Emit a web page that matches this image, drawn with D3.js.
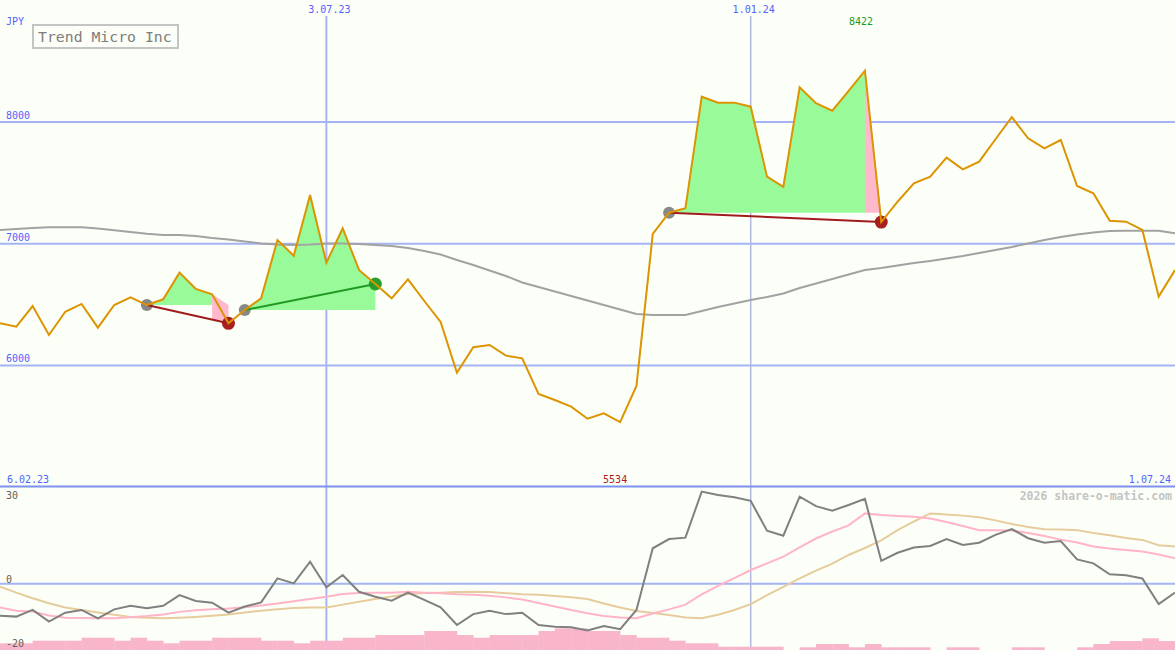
<!DOCTYPE html>
<html><head><meta charset="utf-8">
<script src="https://cdn.jsdelivr.net/npm/d3@7"></script>
<style>html,body{margin:0;padding:0;background:#fcfff8;}svg{display:block;}</style>
</head><body>
<script>
// ---- data (weekly closes, Mondays from 13.02.23 to 1.07.24) ----
const price = [6346,6318,6488,6250,6441,6505,6310,6496,6560,6496,
 6543,6762,6628,6584,6346,6455,6551,7030,6901,7400,
 6844,7127,6784,6669,6551,6707,6529,6357,5940,6149,
 6168,6080,6058,5765,5716,5661,5562,5606,5534,5831,
 7080,7255,7291,8208,8159,8159,8126,7551,7468,8285,
 8154,8093,8255,8422,7178,7345,7496,7551,7707,7611,
 7674,7858,8039,7866,7784,7852,7474,7414,7189,7181,
 7113,6565,6784];
const ma = [7113,7121,7129,7135,7135,7135,7125,7110,7096,7081,
 7071,7071,7063,7047,7035,7018,7002,6993,6989,6993,
 7002,7002,6998,6989,6981,6965,6940,6911,6866,6825,
 6780,6735,6681,6644,6607,6570,6533,6496,6459,6422,
 6414,6414,6414,6447,6480,6508,6537,6562,6591,6636,
 6673,6710,6747,6784,6800,6821,6841,6858,6878,6899,
 6924,6948,6973,7002,7030,7055,7076,7092,7104,7107,
 7107,7107,7085];
const osc = [-11.5,-11.8,-9.4,-13.6,-10.4,-9.4,-12.4,-9.2,-7.9,-8.8,
 -7.9,-4.1,-6.2,-6.8,-10.4,-8.2,-6.7,1.9,0.1,7.9,
 -1.3,3.1,-2.9,-4.7,-6.1,-3.2,-5.8,-8.5,-14.8,-10.9,
 -9.7,-10.9,-10.4,-14.8,-15.4,-15.6,-16.8,-15.2,-16.3,-9.4,
 12.7,16.0,16.5,33.0,31.8,31.0,29.7,19.0,17.2,31.2,
 27.8,26.2,28.2,30.4,8.2,11.1,13.0,13.5,16.0,13.9,
 14.7,17.5,19.6,16.3,14.7,15.3,8.7,7.3,3.4,3.0,
 1.9,-7.3,-3.2];
const oscFast = [-8.5,-9.7,-10.0,-11.4,-12.2,-12.3,-12.4,-12.4,-12.0,-11.6,
 -11.0,-10.1,-9.5,-9.2,-8.9,-8.4,-7.8,-7.1,-6.3,-5.5,
 -4.7,-3.7,-3.3,-3.2,-3.2,-2.9,-3.2,-3.4,-3.8,-4.0,
 -4.3,-4.9,-5.7,-6.9,-8.2,-9.4,-10.6,-11.6,-12.1,-12.4,
 -10.7,-9.2,-7.5,-3.8,-0.8,2.0,4.9,7.3,9.7,13.0,
 16.2,18.7,20.9,25.2,24.6,24.3,24.0,23.4,22.1,20.7,
 19.2,19.2,19.1,18.2,17.1,15.8,14.8,13.3,12.6,12.1,
 11.5,10.5,9.1];
const oscSlow = [-1.1,-3.2,-5.2,-7.0,-8.5,-9.4,-10.3,-11.1,-11.9,-12.2,
 -12.4,-12.2,-11.9,-11.5,-11.0,-10.3,-9.7,-9.2,-8.7,-8.5,
 -8.5,-7.5,-6.5,-5.5,-4.6,-3.7,-3.3,-3.2,-3.0,-2.9,
 -3.0,-3.4,-3.8,-4.0,-4.4,-4.9,-5.5,-7.1,-8.5,-9.8,
 -10.5,-11.2,-12.1,-12.4,-11.1,-9.4,-7.3,-4.1,-1.1,1.9,
 4.7,7.2,10.3,12.8,15.5,19.2,22.3,25.2,24.8,24.4,
 23.8,22.7,21.4,20.3,19.5,19.4,19.2,18.2,17.4,16.4,
 15.7,13.8,13.3];
const volume = [0.67,0.67,0.93,0.93,0.93,1.23,1.23,0.93,1.23,0.93,
 0.67,0.93,0.93,1.23,1.23,1.23,0.93,0.93,0.67,0.93,
 0.93,1.23,1.23,1.5,1.5,1.5,1.9,1.9,1.5,1.23,
 1.5,1.5,1.5,1.9,2.17,2.17,1.9,1.9,1.5,1.23,
 1.23,0.93,0.67,0.67,0.33,0.33,0.33,0.33,0,0.27,
 0.6,0.6,0.27,0.6,0.27,0.27,0.27,0,0.27,0.27,
 0,0,0.27,0.27,0,0,0.27,0.6,0.9,0.9,
 1.17,0.9,0.9];
// trades: index of buy week and sell week
const tradeBuy  = [9, 15, 41];
const tradeSell = [14, 23, 54];
const priceTicks = [6000, 7000, 8000];
const oscTicks = [30, 0, -20];
const dateTickValues = [Date.UTC(2023,6,3), Date.UTC(2024,0,1)];
const dateTickLabels = ["3.07.23", "1.01.24"];
const rangeLabels = ["6.02.23", "1.07.24"];
const title = "Trend Micro Inc";
const currency = "JPY";
const credit = "2026 share-o-matic.com";

// ---- layout ----
const W = 1175, H = 650;
const dates = d3.utcMonday.range(new Date(Date.UTC(2023,1,13)), new Date(Date.UTC(2024,6,2)));
const x = d3.scaleUtc().domain([new Date(Date.UTC(2023,1,13)), new Date(Date.UTC(2024,6,1))]).range([0, W]);
const y = d3.scaleLinear().domain([6000, 8000]).range([365.4, 122]);
const yi = d3.scaleLinear().domain([-20, 30]).range([639.5, 500]);
const yv = d3.scaleLinear().domain([0, 2.5]).range([H, H - 25]);
const step = x(dates[1]) - x(dates[0]);
const mono = "'DejaVu Sans Mono', monospace";
const blue = "#5262ff", grid = "#a4b4f4";

const svg = d3.select("body").append("svg").attr("width", W).attr("height", H);
svg.append("rect").attr("width", W).attr("height", H).attr("fill", "#fcfff8");

// grid
svg.selectAll(".hg").data(priceTicks).join("line")
  .attr("x1", 0).attr("x2", W).attr("y1", d => y(d)).attr("y2", d => y(d))
  .attr("stroke", grid).attr("stroke-width", 2);
svg.selectAll(".hl").data(priceTicks).join("text")
  .attr("x", 6).attr("y", d => y(d) - 3).text(d => d)
  .attr("font-family", mono).attr("font-size", 10).attr("fill", blue);
svg.append("line").attr("x1", 0).attr("x2", W).attr("y1", yi(0)).attr("y2", yi(0))
  .attr("stroke", grid).attr("stroke-width", 2);
svg.selectAll(".vg").data(dateTickValues).join("line")
  .attr("x1", d => x(new Date(d))).attr("x2", d => x(new Date(d)))
  .attr("y1", 16).attr("y2", H)
  .attr("stroke", (d, i) => i === 0 ? grid : "#b0b8e2")
  .attr("stroke-width", (d, i) => i === 0 ? 2 : 1.5);
svg.selectAll(".vl").data(dateTickValues).join("text")
  .attr("x", d => x(new Date(d)) + 3).attr("y", 13).attr("text-anchor", "middle")
  .text((d, i) => dateTickLabels[i])
  .attr("font-family", mono).attr("font-size", 10).attr("fill", blue);

// divider
svg.append("line").attr("x1", 0).attr("x2", W).attr("y1", 486.5).attr("y2", 486.5)
  .attr("stroke", "#7f8ff0").attr("stroke-width", 2);
svg.append("text").attr("x", 7).attr("y", 483).text(rangeLabels[0])
  .attr("font-family", mono).attr("font-size", 10).attr("fill", blue);
svg.append("text").attr("x", 1171).attr("y", 483).attr("text-anchor", "end").text(rangeLabels[1])
  .attr("font-family", mono).attr("font-size", 10).attr("fill", blue);

// trade fills
const pts = price.map((p, i) => ({i, d: dates[i], p}));
trades();
function trades() {
  tradeBuy.forEach((b, t) => {
    const s = tradeSell[t];
    const level = price[b];
    let lastUp = b;
    for (let i = b; i <= s; i++) if (price[i] >= level) lastUp = i;
    const clampArea = d3.area().x(d => x(d.d)).y0(y(level)).y1(d => y(Math.max(d.p, level)));
    svg.append("path").datum(pts.slice(b, lastUp + 1)).attr("d", clampArea).attr("fill", "#98fa98");
    if (lastUp < s) {
      const seg = pts.slice(lastUp, s + 1);
      const aboveArea = d3.area().x(d => x(d.d)).y0(y(level)).y1(d => y(Math.max(d.p, level)));
      svg.append("path").datum(seg).attr("d", aboveArea).attr("fill", "#ffb8cc");
      if (price[lastUp] - level < (level - price[s]) * 3) {
        svg.append("rect").attr("x", x(dates[lastUp])).attr("width", x(dates[s]) - x(dates[lastUp]))
          .attr("y", y(level)).attr("height", y(price[s]) - y(level) - 3).attr("fill", "#ffb8cc");
      }
    }
  });
}

// moving average
svg.append("path").datum(ma.map((v, i) => [dates[i], v]))
  .attr("d", d3.line().x(d => x(d[0])).y(d => y(d[1])))
  .attr("fill", "none").attr("stroke", "#a2a2a2").attr("stroke-width", 2);

// markers, trade lines
tradeBuy.forEach((b, t) => {
  const s = tradeSell[t];
  const win = price[s] > price[b];
  svg.append("circle").attr("cx", x(dates[b])).attr("cy", y(price[b])).attr("r", 6).attr("fill", "#888888");
  svg.append("circle").attr("cx", x(dates[s])).attr("cy", y(price[s])).attr("r", 6.5)
    .attr("fill", win ? "#2a9e2a" : "#a82020");
});
tradeBuy.forEach((b, t) => {
  const s = tradeSell[t];
  const win = price[s] > price[b];
  svg.append("line").attr("x1", x(dates[b])).attr("y1", y(price[b]))
    .attr("x2", x(dates[s])).attr("y2", y(price[s]))
    .attr("stroke", win ? "#229a22" : "#a01c1c").attr("stroke-width", 2);
});

// price line
svg.append("path").datum(pts)
  .attr("d", d3.line().x(d => x(d.d)).y(d => y(d.p)))
  .attr("fill", "none").attr("stroke", "#dc9400").attr("stroke-width", 2);

// max / min labels
const iMax = d3.maxIndex(price), iMin = d3.minIndex(price);
svg.append("text").attr("x", x(dates[iMax]) - 4).attr("y", 25).attr("text-anchor", "middle")
  .text(price[iMax]).attr("font-family", mono).attr("font-size", 10).attr("fill", "#1a9a1a");
svg.append("text").attr("x", x(dates[iMin]) - 5).attr("y", 483).attr("text-anchor", "middle")
  .text(price[iMin]).attr("font-family", mono).attr("font-size", 10).attr("fill", "#b01818");

// title
svg.append("text").attr("x", 6).attr("y", 25).text(currency)
  .attr("font-family", mono).attr("font-size", 10).attr("fill", blue);
svg.append("rect").attr("x", 33).attr("y", 25).attr("width", 145).attr("height", 23)
  .attr("fill", "#fcfff8").attr("stroke", "#c4c4c4").attr("stroke-width", 2);
svg.append("text").attr("x", 38).attr("y", 41.5).text(title)
  .attr("font-family", mono).attr("font-size", 14.8).attr("fill", "#7c7c7c");

// volume bars
svg.selectAll(".vb").data(volume).join("rect")
  .attr("x", (d, i) => x(dates[i])).attr("width", step + 0.3)
  .attr("y", d => yv(d)).attr("height", d => H - yv(d)).attr("fill", "#f9b6ca");

// oscillators
const lineI = d3.line().x((d, i) => x(dates[i])).y(d => yi(d));
svg.append("path").datum(oscSlow).attr("d", lineI).attr("fill", "none").attr("stroke", "#e6cc9c").attr("stroke-width", 2);
svg.append("path").datum(oscFast).attr("d", lineI).attr("fill", "none").attr("stroke", "#ffb4c8").attr("stroke-width", 2);
svg.append("path").datum(osc).attr("d", lineI).attr("fill", "none").attr("stroke", "#808080").attr("stroke-width", 2);

// osc labels
svg.selectAll(".ol").data(oscTicks).join("text")
  .attr("x", 6).attr("y", d => yi(d) < 600 ? yi(d) - 1 : H - 3).text(d => d)
  .attr("font-family", mono).attr("font-size", 10).attr("fill", "#606060");

svg.append("text").attr("x", 1172).attr("y", 500).attr("text-anchor", "end").text(credit)
  .attr("font-family", mono).attr("font-size", 11.5).attr("font-weight", "bold").attr("fill", "#c4c4c4");
</script>
</body></html>
